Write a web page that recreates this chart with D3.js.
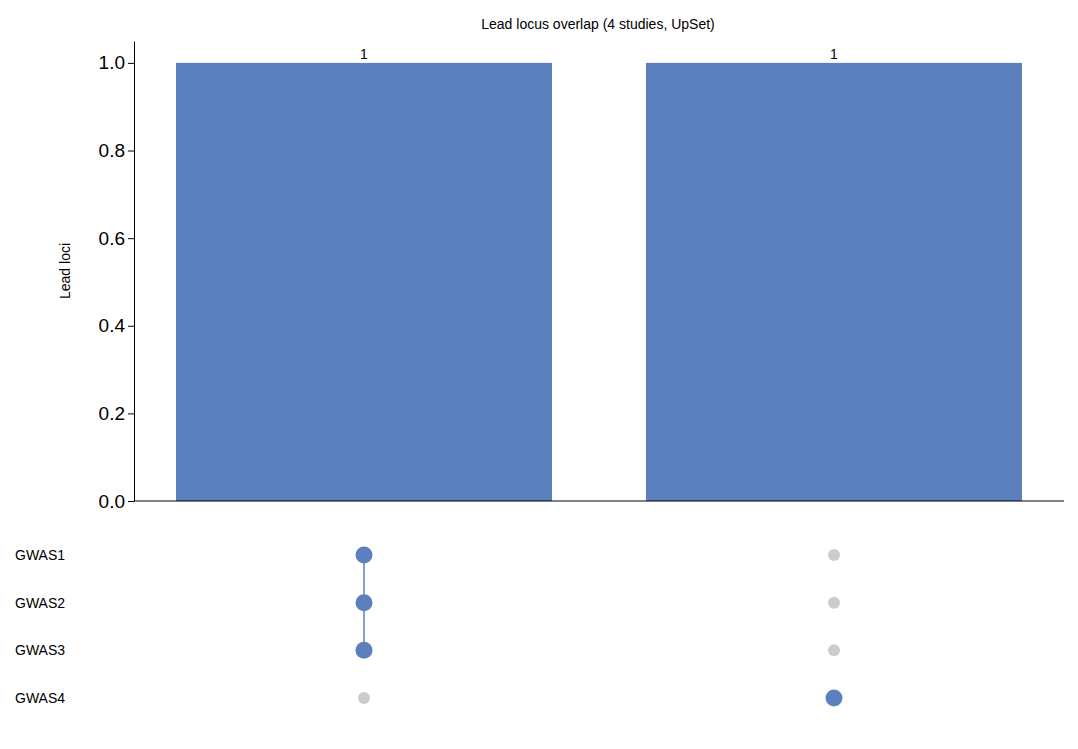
<!DOCTYPE html>
<html><head><meta charset="utf-8">
<script src="https://cdn.jsdelivr.net/npm/d3@7"></script>
<style>body{margin:0;background:#fff;font-family:Arial,"Liberation Sans",sans-serif}</style>
</head><body><svg id="c" width="1078" height="749"></svg>
<script>
let studies = ['GWAS1', 'GWAS2', 'GWAS3', 'GWAS4']
let intersections = [['GWAS1', 'GWAS2', 'GWAS3'], ['GWAS4']]
let counts = [1, 1]
let yTicks = [0, 0.2, 0.4, 0.6, 0.8, 1.0]

const svg = d3.select('#c')
const blue = '#5b80bd'

let x = d3.scaleBand().domain(d3.range(counts.length)).range([129, 1069]).paddingInner(0.2).paddingOuter(0.1)
let y = d3.scaleLinear().domain([0, 1.05]).range([501, 41])
let row = d3.scalePoint().domain(studies).range([555, 698])

svg.append('text').attr('x', 598).attr('y', 29).attr('text-anchor', 'middle')
  .attr('font-size', 14).text('Lead locus overlap (4 studies, UpSet)')

svg.selectAll('rect.bar').data(counts).enter().append('rect')
  .attr('x', (d, i) => x(i)).attr('width', x.bandwidth())
  .attr('y', d => y(d)).attr('height', d => y(0) - y(d)).attr('fill', blue)

svg.selectAll('text.cnt').data(counts).enter().append('text')
  .attr('x', (d, i) => x(i) + x.bandwidth() / 2).attr('y', d => y(d) - 4)
  .attr('text-anchor', 'middle').attr('font-size', 14).text(d => d)

let ax = svg.append('g').attr('transform', 'translate(134,0)')
  .call(d3.axisLeft(y).tickValues(yTicks).tickFormat(d3.format('.1f')).tickSizeOuter(0))
ax.selectAll('text').attr('font-size', 19).attr('font-family', 'Arial,"Liberation Sans",sans-serif').attr('fill', '#000')
ax.select('.domain').attr('stroke', '#000')
svg.append('line').attr('x1', 134).attr('x2', 1064).attr('y1', y(0)).attr('y2', y(0)).attr('stroke', '#000')

svg.append('text').attr('transform', 'translate(70,271) rotate(-90)').attr('text-anchor', 'middle')
  .attr('font-size', 14).text('Lead loci')

svg.selectAll('text.st').data(studies).enter().append('text')
  .attr('x', 15).attr('y', d => row(d) + 5).attr('font-size', 14).text(d => d)

intersections.forEach((set, i) => {
  let cx = x(i) + x.bandwidth() / 2
  let ys = set.map(s => row(s))
  if (set.length > 1) {
    svg.append('line').attr('x1', cx).attr('x2', cx).attr('y1', d3.min(ys)).attr('y2', d3.max(ys))
      .attr('stroke', blue).attr('stroke-width', 1.5)
  }
  studies.forEach(s => {
    let on = set.includes(s)
    svg.append('circle').attr('cx', cx).attr('cy', row(s)).attr('r', on ? 8.5 : 6)
      .attr('fill', on ? blue : '#cccccc')
  })
})
</script></body></html>
